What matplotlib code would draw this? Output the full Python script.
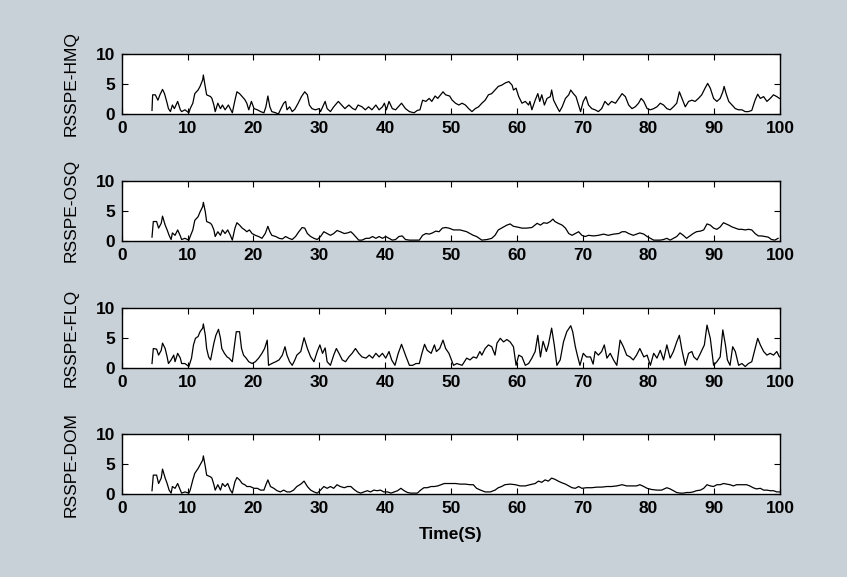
import matplotlib.pyplot as plt

# time stamps (s) and RSSPE values
t_hmq = [4.6, 4.7, 5.1, 5.5, 5.8, 6.2, 6.5, 6.9, 7.1, 7.4, 7.7, 8.0, 8.5, 8.9, 9.1, 9.6,
         10.2, 10.4, 10.8, 11.1, 11.6, 11.9, 12.3, 12.4, 12.6, 12.9, 13.5, 13.7, 14.0, 14.2,
         14.6, 15.0, 15.3, 15.7, 16.2, 16.8, 17.2, 17.5, 17.9, 18.3, 18.7, 19.0, 19.3, 19.7,
         20.1, 20.6, 21.1, 21.6, 21.9, 22.2, 22.5, 22.8, 23.4, 23.8, 24.1, 24.6, 24.9, 25.1,
         25.5, 25.9, 26.3, 26.8, 27.3, 27.8, 28.2, 28.5, 28.9, 29.4, 30.0, 30.2, 30.9, 31.2,
         31.7, 32.2, 32.9, 33.4, 33.9, 34.5, 35.1, 35.5, 35.9, 36.5, 37.0, 37.5, 38.0, 38.6,
         39.1, 39.6, 39.9, 40.2, 40.6, 41.1, 41.6, 42.0, 42.5, 43.1, 43.7, 44.4, 44.9, 45.3,
         45.7, 46.2, 46.7, 47.1, 47.6, 48.0, 48.8, 49.2, 49.8,
         50.2, 50.7, 51.2, 51.7, 52.2, 52.7, 53.2, 53.7, 54.2, 54.7, 55.2, 55.7, 56.2, 56.7,
         57.2, 57.7, 58.3, 58.8, 59.3, 59.5, 59.9, 60.3, 60.8, 61.3, 61.8, 62.0, 62.3, 62.8,
         63.2, 63.5, 63.8, 64.2, 64.6, 65.1, 65.3, 65.6, 66.1, 66.5, 66.9, 67.4, 67.9, 68.2,
         68.6, 69.0, 69.4, 69.7, 70.1, 70.5, 70.9, 71.4, 71.9, 72.4, 72.9, 73.4, 73.9, 74.4,
         75.0, 75.5, 76.0, 76.5, 77.0, 77.5, 78.0, 78.5, 78.9, 79.3, 79.8, 80.3, 80.8, 81.3,
         81.8, 82.3, 82.8, 83.3, 83.8, 84.3, 84.7, 85.1, 85.6, 86.1, 86.6, 87.1, 87.6, 88.1,
         88.6, 89.0, 89.4, 89.9, 90.4, 90.9, 91.3, 91.5, 91.8, 92.2, 92.7, 93.2, 93.7, 94.2,
         94.7, 95.2, 95.7, 96.2, 96.6, 97.0, 97.5, 98.0, 98.5, 99.0, 99.5, 99.9]
rsspe_hmq = [0.6, 3.2, 3.2, 2.3, 3.2, 4.1, 3.4, 1.8, 0.9, 0.4, 1.5, 0.9, 2.1, 0.7, 0.4, 0.7,
             0.2, 0.9, 1.8, 3.4, 4.0, 4.6, 5.7, 6.5, 5.1, 3.2, 2.9, 2.6, 1.5, 0.4,
             1.8, 0.9, 1.5, 0.7, 1.5, 0.2, 2.3, 3.7, 3.4, 2.9, 2.4, 1.8, 0.7, 2.1,
             0.9, 0.7, 0.4, 0.2, 1.2, 3.0, 1.2, 0.4, 0.2, 0.0, 0.7, 1.8, 2.1, 0.7,
             1.2, 0.4, 0.8, 1.8, 2.9, 3.7, 3.2, 1.5, 0.9, 0.7, 0.9, 0.4, 2.1, 0.9,
             0.4, 1.2, 2.1, 1.5, 0.9, 1.5, 0.9, 0.7, 1.5, 1.2, 0.7, 1.2, 0.7, 1.5,
             0.7, 1.2, 1.8, 0.7, 2.1, 0.9, 0.7, 1.2, 1.8, 0.9, 0.4, 0.2, 0.6, 0.7,
             2.3, 2.1, 2.6, 2.1, 3.0, 2.6, 3.7, 3.2, 3.0,
             2.3, 1.8, 1.5, 1.8, 1.5, 0.9, 0.4, 0.9, 1.2, 1.8, 2.3, 3.2, 3.4, 4.0,
             4.6, 4.8, 5.2, 5.4, 4.8, 4.0, 4.3, 2.9, 1.8, 2.1, 1.5, 2.1, 0.7, 2.3,
             3.4, 2.1, 3.2, 1.5, 2.6, 2.9, 4.0, 2.3, 1.2, 0.4, 1.2, 2.6, 3.2, 4.0,
             3.4, 2.9, 1.5, 0.4, 2.1, 2.9, 1.5, 0.9, 0.7, 0.4, 0.9, 2.1, 1.5, 2.1,
             1.8, 2.6, 3.4, 2.9, 1.5, 0.9, 1.2, 1.8, 2.6, 2.1, 0.9, 0.7, 0.9, 1.2,
             1.8, 1.5, 0.9, 0.7, 1.2, 1.8, 3.7, 2.6, 1.2, 2.1, 2.3, 2.1, 2.6, 3.2,
             4.3, 5.1, 4.3, 2.6, 2.1, 2.6, 3.7, 4.6, 3.4, 2.1, 1.5, 0.9, 0.7, 0.7,
             0.4, 0.4, 0.6, 2.3, 3.3, 2.6, 2.9, 2.1, 2.6, 3.2, 2.9, 2.6]

t_osq = [4.6, 4.8, 5.3, 5.6, 6.0, 6.2, 6.6, 6.9, 7.2, 7.5, 7.7, 8.1, 8.5, 8.9, 9.1, 9.6,
         10.2, 10.4, 10.8, 11.1, 11.6, 11.9, 12.3, 12.4, 12.7, 12.9, 13.5, 13.7, 14.0, 14.2,
         14.6, 15.0, 15.3, 15.7, 16.1, 16.5, 16.8, 17.2, 17.5, 17.9, 18.3, 18.7, 19.0, 19.4,
         19.8, 20.3, 20.8, 21.3, 21.8, 22.2, 22.5, 22.8, 23.4, 23.9, 24.4, 24.9, 25.4, 25.9,
         26.4, 26.9, 27.4, 27.8, 28.2, 28.7, 29.2, 29.7, 30.2, 30.7, 31.2, 31.7, 32.2, 32.7,
         33.2, 33.8, 34.3, 34.8, 35.1, 35.5, 36.0, 36.5, 37.1, 37.6, 38.1, 38.6, 39.1, 39.6,
         40.1, 40.6, 41.1, 41.6, 42.1, 42.6, 43.1, 43.7, 44.4, 45.2, 45.7, 46.2, 46.7, 47.2,
         47.7, 48.2, 48.7, 49.2, 49.7,
         50.4, 51.4, 52.4, 53.4, 53.9, 54.7, 55.5, 56.2, 56.7, 57.2, 57.7, 58.5, 59.0, 59.5,
         60.0, 60.8, 61.5, 62.3, 63.1, 63.6, 64.1, 64.6, 65.1, 65.5, 65.8, 66.3, 66.9, 67.4,
         67.9, 68.4, 68.9, 69.4, 69.9, 70.4, 70.9, 71.7, 72.4, 73.2, 73.9, 74.7, 75.5, 76.0,
         76.5, 77.0, 77.7, 78.7, 79.3, 79.8, 80.3, 80.8, 81.3, 81.8, 82.3, 82.8, 83.3, 83.8,
         84.3, 84.8, 85.3, 85.8, 86.3, 86.8, 87.3, 87.9, 88.4, 88.9, 89.4, 89.9, 90.4, 90.9,
         91.4, 91.8, 92.2, 92.7, 93.2, 93.7, 94.2, 94.7, 95.2, 95.7, 96.2, 96.7, 97.2, 97.7,
         98.2, 98.7, 99.2, 99.7]
rsspe_osq = [0.6, 3.2, 3.2, 2.1, 2.9, 4.1, 2.6, 1.8, 0.9, 0.2, 1.3, 0.9, 1.8, 0.8, 0.2, 0.4,
             0.1, 0.7, 1.8, 3.4, 4.0, 4.8, 5.7, 6.4, 4.8, 3.2, 2.9, 2.6, 1.8, 0.7,
             1.5, 0.9, 1.8, 1.2, 1.8, 0.9, 0.1, 2.1, 3.0, 2.6, 2.1, 1.8, 1.5, 1.8,
             1.2, 0.9, 0.7, 0.4, 1.2, 2.4, 1.5, 0.9, 0.7, 0.4, 0.3, 0.7, 0.4, 0.2,
             0.7, 1.5, 2.2, 2.1, 1.2, 0.7, 0.4, 0.2, 0.7, 1.5, 1.2, 0.9, 1.2, 1.7,
             1.5, 1.2, 1.3, 1.5, 1.2, 0.7, 0.1, 0.1, 0.4, 0.4, 0.7, 0.4, 0.7, 0.4,
             0.7, 0.4, 0.1, 0.2, 0.7, 0.8, 0.2, 0.1, 0.1, 0.1, 0.9, 1.2, 1.1, 1.3,
             1.6, 1.5, 2.1, 2.2, 2.1,
             1.8, 1.8, 1.5, 0.9, 0.7, 0.1, 0.2, 0.4, 0.9, 1.8, 2.1, 2.6, 2.8, 2.4,
             2.3, 2.1, 2.1, 2.2, 2.9, 2.6, 3.0, 2.9, 3.2, 3.6, 3.2, 2.9, 2.6, 2.1,
             1.2, 0.9, 1.2, 1.5, 0.9, 0.7, 0.9, 0.8, 0.9, 1.1, 0.9, 1.1, 1.2, 1.5,
             1.5, 1.2, 0.9, 1.3, 1.1, 0.7, 0.4, 0.1, 0.1, 0.1, 0.2, 0.4, 0.1, 0.4,
             0.7, 1.3, 0.9, 0.4, 0.8, 1.2, 1.5, 1.6, 1.8, 2.8, 2.6, 2.1, 1.9, 2.3,
             3.0, 2.8, 2.6, 2.3, 2.1, 1.9, 1.9, 1.8, 1.9, 1.8, 1.2, 0.8, 0.8, 0.7,
             0.6, 0.2, 0.1, 0.4]

t_flq = [4.6, 4.8, 5.3, 5.6, 6.0, 6.2, 6.6, 6.9, 7.1, 7.5, 7.9, 8.1, 8.5, 8.9, 9.1, 9.6,
         10.2, 10.6, 10.9, 11.2, 11.6, 11.9, 12.3, 12.4, 12.7, 12.9, 13.2, 13.5, 13.7, 14.0,
         14.3, 14.7, 15.0, 15.2, 15.6, 16.0, 16.3, 16.8, 17.2, 17.4, 17.9, 18.2, 18.5, 18.9,
         19.3, 19.8, 20.3, 20.8, 21.3, 21.7, 22.1, 22.3, 22.8, 23.4, 23.9, 24.4, 24.8, 25.1,
         25.5, 25.9, 26.3, 26.6, 27.2, 27.7, 28.2, 28.7, 29.2, 29.7, 30.1, 30.5, 30.9, 31.2,
         31.7, 32.2, 32.6, 33.0, 33.5, 34.0, 34.5, 35.0, 35.5, 36.0, 36.5, 37.1, 37.6, 38.1,
         38.6, 39.1, 39.6, 40.1, 40.6, 41.0, 41.5, 42.0, 42.5, 42.9, 43.2, 43.7, 44.2, 44.7,
         45.2, 45.6, 46.0, 46.4, 47.0, 47.5, 47.8, 48.3, 48.8, 49.2, 49.7,
         50.4, 50.9, 51.7, 52.4, 52.9, 53.4, 53.9, 54.4, 54.7, 55.2, 55.7, 56.2, 56.7, 57.0,
         57.5, 58.0, 58.5, 59.0, 59.5, 59.9, 60.3, 60.8, 61.3, 61.8, 62.3, 62.8, 63.2, 63.6,
         64.0, 64.5, 64.8, 65.3, 65.7, 66.1, 66.6, 67.1, 67.6, 68.2, 68.5, 68.9, 69.2, 69.6,
         70.1, 70.6, 71.2, 71.6, 71.9, 72.4, 72.9, 73.3, 73.7, 74.2, 74.7, 75.2, 75.7, 76.2,
         76.7, 77.2, 77.7, 78.2, 78.7, 79.3, 79.8, 80.3, 80.8, 81.3, 81.8, 82.3, 82.8, 83.3,
         83.8, 84.3, 84.7, 85.1, 85.6, 86.1, 86.6, 86.9, 87.4, 87.9, 88.5, 88.9, 89.4, 89.9,
         90.4, 90.9, 91.3, 91.7, 92.0, 92.4, 92.8, 93.2, 93.7, 94.2, 94.7, 95.2, 95.7, 96.2,
         96.6, 97.0, 97.5, 98.0, 98.5, 99.0, 99.5, 99.9]
rsspe_flq = [0.7, 3.2, 3.1, 2.1, 2.9, 4.1, 3.2, 1.8, 0.7, 1.3, 2.1, 1.0, 2.4, 1.6, 0.7, 0.7,
             0.2, 1.6, 3.8, 4.9, 5.2, 6.0, 6.6, 7.3, 5.4, 3.2, 1.8, 1.3, 2.4, 4.1,
             5.4, 6.4, 4.9, 3.2, 2.4, 1.8, 1.6, 1.0, 4.3, 6.0, 6.0, 3.2, 2.1, 1.6,
             1.0, 0.7, 1.0, 1.6, 2.4, 3.2, 4.6, 0.4, 0.7, 1.0, 1.3, 2.1, 3.5, 2.1,
             1.0, 0.4, 1.3, 2.1, 2.7, 5.0, 3.2, 1.8, 1.0, 2.7, 3.8, 2.4, 3.3, 1.0,
             0.4, 2.1, 3.2, 2.4, 1.3, 1.0, 1.8, 2.4, 3.2, 2.4, 1.8, 1.6, 2.1, 1.6,
             2.4, 1.8, 2.4, 1.6, 2.7, 1.3, 0.4, 2.4, 3.9, 2.7, 1.8, 0.4, 0.4, 0.7,
             0.7, 2.4, 3.9, 2.9, 2.4, 3.8, 2.7, 3.2, 4.6, 3.2, 2.4,
             0.4, 0.7, 0.4, 1.6, 1.3, 1.8, 1.6, 2.7, 2.1, 3.2, 3.8, 3.5, 2.1, 4.1,
             4.9, 4.3, 4.7, 4.3, 3.5, 0.4, 2.1, 1.8, 0.4, 0.7, 1.6, 2.7, 5.4, 1.8,
             4.4, 2.7, 3.8, 6.6, 3.8, 0.4, 1.3, 4.3, 6.0, 7.0, 6.0, 3.5, 2.1, 0.4,
             2.4, 1.8, 1.8, 0.6, 2.7, 2.1, 2.7, 3.8, 1.6, 2.4, 1.3, 0.4, 4.6, 3.5,
             2.1, 1.8, 1.3, 2.1, 3.2, 1.8, 2.1, 0.4, 2.4, 1.6, 2.9, 1.3, 3.8, 1.6,
             2.7, 4.3, 5.4, 2.9, 0.4, 2.4, 2.7, 1.8, 1.3, 2.4, 3.8, 7.1, 4.9, 0.4,
             1.0, 1.8, 6.3, 3.8, 1.3, 0.4, 3.5, 2.7, 0.4, 0.7, 0.2, 0.7, 1.0, 3.2,
             4.9, 3.8, 2.7, 2.1, 2.4, 2.1, 2.7, 1.8]

t_dom = [4.6, 4.8, 5.3, 5.6, 6.0, 6.2, 6.6, 6.9, 7.2, 7.5, 7.7, 8.1, 8.5, 8.9, 9.1, 9.6,
         10.2, 10.4, 10.8, 11.1, 11.6, 11.9, 12.3, 12.4, 12.7, 12.9, 13.5, 13.7, 14.0, 14.2,
         14.6, 15.0, 15.3, 15.7, 16.1, 16.5, 16.8, 17.2, 17.5, 17.9, 18.3, 18.7, 19.0, 19.5,
         20.1, 20.6, 21.1, 21.6, 21.9, 22.2, 22.6, 23.1, 23.6, 24.1, 24.6, 25.1, 25.6, 26.1,
         26.6, 27.2, 27.7, 28.2, 28.7, 29.2, 29.7, 30.2, 30.7, 31.2, 31.7, 32.2, 32.7, 33.2,
         33.8, 34.3, 34.8, 35.3, 35.8, 36.3, 36.8, 37.3, 37.8, 38.3, 38.8, 39.3, 39.8, 40.4,
         40.9, 41.4, 41.9, 42.4, 42.9, 43.4, 43.9, 44.4, 44.9, 45.4, 45.9, 46.4, 47.0, 47.5,
         48.0, 48.5, 49.0, 49.5,
         50.7, 51.4, 52.2, 52.9, 53.4, 53.9, 54.5, 55.2, 56.0, 56.7, 57.2, 57.7, 58.2, 59.0,
         59.8, 60.5, 61.3, 62.0, 62.8, 63.3, 63.8, 64.3, 64.8, 65.3, 65.8, 66.3, 66.9, 67.4,
         67.9, 68.4, 68.9, 69.4, 69.9, 70.6, 71.4, 72.2, 72.9, 73.7, 74.4, 75.2, 76.0, 76.7,
         77.5, 78.2, 78.7, 79.3, 79.8, 80.5, 81.3, 82.0, 82.8, 83.3, 83.8, 84.3, 84.8, 85.3,
         85.8, 86.3, 86.8, 87.3, 87.9, 88.4, 88.9, 89.4, 89.9, 90.4, 90.9, 91.4, 91.9, 92.4,
         92.9, 93.4, 93.9, 94.4, 94.9, 95.4, 95.9, 96.4, 97.0, 97.5, 98.0, 98.5, 99.0, 99.5,
         99.9]
rsspe_dom = [0.6, 3.2, 3.2, 1.8, 2.7, 4.2, 2.7, 1.8, 0.7, 0.2, 1.3, 1.0, 1.8, 0.7, 0.2, 0.4,
             0.2, 0.7, 2.4, 3.5, 4.3, 4.9, 5.7, 6.4, 4.6, 3.2, 2.9, 2.7, 1.6, 0.7,
             1.6, 0.7, 1.8, 1.3, 1.8, 0.7, 0.2, 2.1, 2.8, 2.4, 1.8, 1.6, 1.3, 1.3,
             1.0, 1.0, 0.7, 0.7, 1.6, 2.4, 1.3, 1.0, 0.6, 0.4, 0.7, 0.4, 0.4, 0.7,
             1.3, 1.7, 2.2, 1.3, 0.7, 0.4, 0.2, 0.7, 1.3, 1.0, 1.3, 1.0, 1.6, 1.3,
             1.1, 1.3, 1.3, 0.8, 0.4, 0.2, 0.4, 0.6, 0.4, 0.7, 0.6, 0.7, 0.4, 0.4,
             0.2, 0.4, 0.6, 1.0, 0.6, 0.3, 0.2, 0.2, 0.2, 0.7, 1.1, 1.1, 1.3, 1.3,
             1.4, 1.6, 1.8, 1.8,
             1.8, 1.7, 1.7, 1.6, 1.6, 1.0, 0.7, 0.4, 0.4, 0.7, 1.1, 1.3, 1.6, 1.7,
             1.6, 1.4, 1.4, 1.6, 1.8, 2.2, 2.0, 2.4, 2.2, 2.7, 2.5, 2.2, 1.9, 1.7,
             1.4, 1.1, 1.0, 1.3, 1.0, 1.1, 1.1, 1.2, 1.2, 1.3, 1.3, 1.4, 1.6, 1.4,
             1.4, 1.4, 1.6, 1.3, 1.0, 0.8, 0.7, 0.7, 1.1, 0.9, 0.6, 0.3, 0.2, 0.2,
             0.3, 0.3, 0.4, 0.6, 0.7, 1.0, 1.6, 1.4, 1.3, 1.6, 1.6, 1.8, 1.7, 1.6,
             1.4, 1.6, 1.6, 1.6, 1.6, 1.4, 1.1, 0.9, 1.0, 0.7, 0.7, 0.6, 0.6, 0.4,
             0.4]

labels = ["RSSPE-HMQ", "RSSPE-OSQ", "RSSPE-FLQ", "RSSPE-DOM"]
series = [(t_hmq, rsspe_hmq), (t_osq, rsspe_osq), (t_flq, rsspe_flq), (t_dom, rsspe_dom)]

plt.rcParams["font.family"] = ["Liberation Sans", "DejaVu Sans"]
BG = "#c8d0d8"

fig = plt.figure(figsize=(8.47, 5.77), dpi=100, facecolor=BG)
bottoms = [0.8024, 0.5828, 0.3627, 0.1433]

for i, (name, (t, y)) in enumerate(zip(labels, series)):
    ax = fig.add_axes([0.1437, bottoms[i], 0.7773, 0.104])
    ax.plot(t, y, color="black", linewidth=0.9)
    ax.set_xlim(0, 100)
    ax.set_ylim(0, 10)
    ax.set_xticks(range(0, 101, 10))
    ax.set_yticks([0, 5, 10])
    ax.tick_params(direction="in", top=True, right=True, length=4.5, width=0.8,
                   labelsize=12.5, pad=5)
    for lab in ax.get_xticklabels() + ax.get_yticklabels():
        lab.set_fontweight("bold")
    for sp in ax.spines.values():
        sp.set_linewidth(1.0)
    ax.set_ylabel(name, fontsize=12.5)
    ax.yaxis.set_label_coords(-0.066, 0.5)
    if i == 3:
        ax.set_xlabel("Time(S)", fontsize=12.5, fontweight="bold", labelpad=8)

plt.savefig("out.png", dpi=100, facecolor=BG)
